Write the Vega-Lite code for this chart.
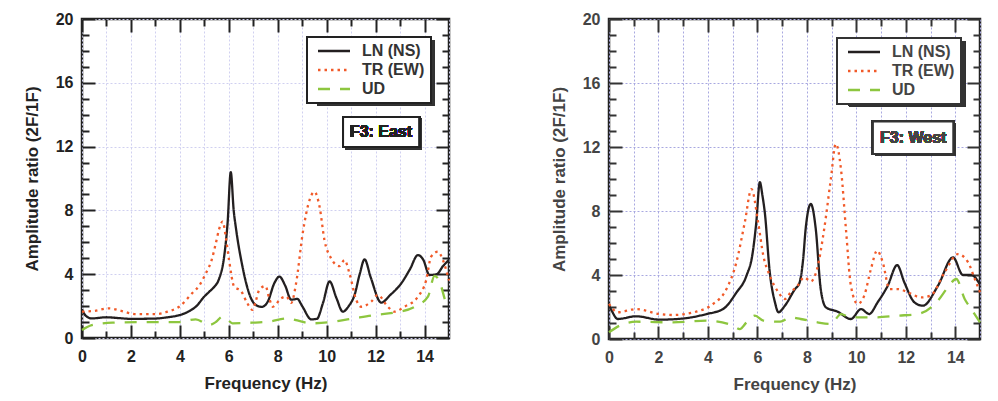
{
"$schema": "https://vega.github.io/schema/vega-lite/v6.json",
"padding": {"left": 21, "top": 9, "right": 5, "bottom": 5},
"spacing": 93,
"background": "white",
"config": {
 "view": {"stroke": "#222", "strokeWidth": 2.5},
 "font": "Liberation Sans",
 "legend": {"strokeWidth": 2},
 "axis": {"domain": false, "tickWidth": 2, "tickColor": "#222", "labelFontSize": 16, "labelFontWeight": "bold", "labelColor": "#222", "labelFlush": false, "titleFontSize": 17, "titleFontWeight": "bold", "titleColor": "#222", "gridDash": [2,2], "gridWidth": 1}
},
"datasets": {
"east": [
{"series":"LN (NS)","f":0,"a":1.8},{"series":"LN (NS)","f":0.15,"a":1.4},{"series":"LN (NS)","f":0.4,"a":1.23},{"series":"LN (NS)","f":1.0,"a":1.3},{"series":"LN (NS)","f":1.5,"a":1.25},{"series":"LN (NS)","f":2.0,"a":1.2},{"series":"LN (NS)","f":3.0,"a":1.22},{"series":"LN (NS)","f":3.5,"a":1.3},{"series":"LN (NS)","f":4.0,"a":1.44},{"series":"LN (NS)","f":4.4,"a":1.7},{"series":"LN (NS)","f":4.65,"a":1.96},{"series":"LN (NS)","f":5.0,"a":2.6},{"series":"LN (NS)","f":5.2,"a":2.9},{"series":"LN (NS)","f":5.4,"a":3.2},{"series":"LN (NS)","f":5.6,"a":3.7},{"series":"LN (NS)","f":5.8,"a":5.0},{"series":"LN (NS)","f":5.95,"a":7.2},{"series":"LN (NS)","f":6.08,"a":10.4},{"series":"LN (NS)","f":6.2,"a":8.0},{"series":"LN (NS)","f":6.3,"a":6.8},{"series":"LN (NS)","f":6.56,"a":4.47},{"series":"LN (NS)","f":6.83,"a":2.8},{"series":"LN (NS)","f":7.1,"a":2.07},{"series":"LN (NS)","f":7.35,"a":1.95},{"series":"LN (NS)","f":7.6,"a":2.3},{"series":"LN (NS)","f":7.85,"a":3.4},{"series":"LN (NS)","f":8.07,"a":3.85},{"series":"LN (NS)","f":8.3,"a":3.3},{"series":"LN (NS)","f":8.55,"a":2.4},{"series":"LN (NS)","f":8.8,"a":2.45},{"series":"LN (NS)","f":9.0,"a":2.0},{"series":"LN (NS)","f":9.37,"a":1.17},{"series":"LN (NS)","f":9.6,"a":1.2},{"series":"LN (NS)","f":9.85,"a":2.2},{"series":"LN (NS)","f":10.12,"a":3.55},{"series":"LN (NS)","f":10.4,"a":2.5},{"series":"LN (NS)","f":10.66,"a":1.65},{"series":"LN (NS)","f":10.9,"a":2.0},{"series":"LN (NS)","f":11.14,"a":2.7},{"series":"LN (NS)","f":11.35,"a":4.0},{"series":"LN (NS)","f":11.55,"a":4.93},{"series":"LN (NS)","f":11.8,"a":3.8},{"series":"LN (NS)","f":12.23,"a":2.22},{"series":"LN (NS)","f":12.6,"a":2.7},{"series":"LN (NS)","f":13.05,"a":3.43},{"series":"LN (NS)","f":13.4,"a":4.3},{"series":"LN (NS)","f":13.73,"a":5.2},{"series":"LN (NS)","f":13.95,"a":4.9},{"series":"LN (NS)","f":14.2,"a":3.95},{"series":"LN (NS)","f":14.5,"a":4.0},{"series":"LN (NS)","f":14.75,"a":4.5},{"series":"LN (NS)","f":15.0,"a":4.9},
{"series":"TR (EW)","f":0,"a":1.65},{"series":"TR (EW)","f":0.5,"a":1.7},{"series":"TR (EW)","f":1.1,"a":1.86},{"series":"TR (EW)","f":1.6,"a":1.7},{"series":"TR (EW)","f":2.2,"a":1.5},{"series":"TR (EW)","f":3.0,"a":1.5},{"series":"TR (EW)","f":3.5,"a":1.65},{"series":"TR (EW)","f":3.97,"a":1.96},{"series":"TR (EW)","f":4.5,"a":2.8},{"series":"TR (EW)","f":4.8,"a":3.3},{"series":"TR (EW)","f":5.06,"a":4.05},{"series":"TR (EW)","f":5.3,"a":4.9},{"series":"TR (EW)","f":5.47,"a":5.94},{"series":"TR (EW)","f":5.6,"a":6.8},{"series":"TR (EW)","f":5.75,"a":7.3},{"series":"TR (EW)","f":5.88,"a":6.3},{"series":"TR (EW)","f":6.01,"a":4.89},{"series":"TR (EW)","f":6.22,"a":3.22},{"series":"TR (EW)","f":6.5,"a":2.95},{"series":"TR (EW)","f":6.76,"a":2.17},{"series":"TR (EW)","f":6.97,"a":1.76},{"series":"TR (EW)","f":7.1,"a":2.3},{"series":"TR (EW)","f":7.24,"a":3.0},{"series":"TR (EW)","f":7.5,"a":3.26},{"series":"TR (EW)","f":7.65,"a":2.5},{"series":"TR (EW)","f":7.8,"a":1.96},{"series":"TR (EW)","f":8.14,"a":2.49},{"series":"TR (EW)","f":8.35,"a":2.6},{"series":"TR (EW)","f":8.55,"a":2.2},{"series":"TR (EW)","f":8.75,"a":3.43},{"series":"TR (EW)","f":9.02,"a":6.56},{"series":"TR (EW)","f":9.3,"a":8.65},{"series":"TR (EW)","f":9.5,"a":9.17},{"series":"TR (EW)","f":9.71,"a":8.23},{"series":"TR (EW)","f":9.91,"a":6.14},{"series":"TR (EW)","f":10.18,"a":5.0},{"series":"TR (EW)","f":10.52,"a":4.51},{"series":"TR (EW)","f":10.73,"a":4.89},{"series":"TR (EW)","f":10.93,"a":4.06},{"series":"TR (EW)","f":11.21,"a":2.38},{"series":"TR (EW)","f":11.41,"a":1.96},{"series":"TR (EW)","f":11.82,"a":2.28},{"series":"TR (EW)","f":12.09,"a":2.7},{"series":"TR (EW)","f":12.5,"a":1.96},{"series":"TR (EW)","f":12.77,"a":1.65},{"series":"TR (EW)","f":13.18,"a":1.96},{"series":"TR (EW)","f":13.73,"a":2.59},{"series":"TR (EW)","f":14.07,"a":3.64},{"series":"TR (EW)","f":14.27,"a":5.1},{"series":"TR (EW)","f":14.55,"a":5.41},{"series":"TR (EW)","f":14.75,"a":4.89},{"series":"TR (EW)","f":15.0,"a":3.6},
{"series":"UD","f":0,"a":0.5},{"series":"UD","f":0.4,"a":0.8},{"series":"UD","f":1.24,"a":0.96},{"series":"UD","f":2.6,"a":1.0},{"series":"UD","f":3.97,"a":1.0},{"series":"UD","f":4.65,"a":1.17},{"series":"UD","f":5.19,"a":0.82},{"series":"UD","f":5.47,"a":1.0},{"series":"UD","f":5.74,"a":1.34},{"series":"UD","f":5.95,"a":1.15},{"series":"UD","f":6.15,"a":0.92},{"series":"UD","f":6.95,"a":0.96},{"series":"UD","f":7.6,"a":1.02},{"series":"UD","f":8.41,"a":1.23},{"series":"UD","f":8.8,"a":1.1},{"series":"UD","f":9.37,"a":0.92},{"series":"UD","f":10.18,"a":1.0},{"series":"UD","f":11.0,"a":1.2},{"series":"UD","f":11.96,"a":1.44},{"series":"UD","f":12.77,"a":1.59},{"series":"UD","f":13.6,"a":1.96},{"series":"UD","f":14.14,"a":2.59},{"series":"UD","f":14.41,"a":3.9},{"series":"UD","f":14.6,"a":3.6},{"series":"UD","f":14.89,"a":2.17},{"series":"UD","f":15.0,"a":1.9}
],
"west": [
{"series":"LN (NS)","f":0,"a":2.1},{"series":"LN (NS)","f":0.1,"a":1.8},{"series":"LN (NS)","f":0.35,"a":1.25},{"series":"LN (NS)","f":1.1,"a":1.42},{"series":"LN (NS)","f":2.04,"a":1.21},{"series":"LN (NS)","f":2.99,"a":1.28},{"series":"LN (NS)","f":3.94,"a":1.56},{"series":"LN (NS)","f":4.61,"a":1.87},{"series":"LN (NS)","f":5.15,"a":2.9},{"series":"LN (NS)","f":5.56,"a":3.96},{"series":"LN (NS)","f":5.8,"a":5.3},{"series":"LN (NS)","f":5.95,"a":7.2},{"series":"LN (NS)","f":6.1,"a":9.8},{"series":"LN (NS)","f":6.2,"a":9.0},{"series":"LN (NS)","f":6.3,"a":7.9},{"series":"LN (NS)","f":6.5,"a":4.17},{"series":"LN (NS)","f":6.71,"a":2.29},{"series":"LN (NS)","f":6.85,"a":1.67},{"series":"LN (NS)","f":7.11,"a":2.08},{"series":"LN (NS)","f":7.52,"a":3.12},{"series":"LN (NS)","f":7.7,"a":3.5},{"series":"LN (NS)","f":7.85,"a":5.0},{"series":"LN (NS)","f":7.95,"a":6.87},{"series":"LN (NS)","f":8.16,"a":8.44},{"series":"LN (NS)","f":8.36,"a":6.87},{"series":"LN (NS)","f":8.56,"a":3.12},{"series":"LN (NS)","f":8.77,"a":1.98},{"series":"LN (NS)","f":9.24,"a":1.71},{"series":"LN (NS)","f":9.78,"a":1.25},{"series":"LN (NS)","f":10.19,"a":1.87},{"series":"LN (NS)","f":10.52,"a":1.56},{"series":"LN (NS)","f":10.86,"a":2.29},{"series":"LN (NS)","f":11.27,"a":3.33},{"series":"LN (NS)","f":11.65,"a":4.62},{"series":"LN (NS)","f":11.94,"a":3.54},{"series":"LN (NS)","f":12.35,"a":2.29},{"series":"LN (NS)","f":12.69,"a":2.08},{"series":"LN (NS)","f":13.3,"a":3.33},{"series":"LN (NS)","f":13.91,"a":5.1},{"series":"LN (NS)","f":14.31,"a":4.0},{"series":"LN (NS)","f":14.65,"a":4.0},{"series":"LN (NS)","f":15.0,"a":3.4},
{"series":"TR (EW)","f":0,"a":2.2},{"series":"TR (EW)","f":0.35,"a":1.67},{"series":"TR (EW)","f":1.1,"a":1.87},{"series":"TR (EW)","f":2.04,"a":1.56},{"series":"TR (EW)","f":2.58,"a":1.5},{"series":"TR (EW)","f":3.53,"a":1.71},{"series":"TR (EW)","f":4.21,"a":2.19},{"series":"TR (EW)","f":4.75,"a":3.12},{"series":"TR (EW)","f":5.15,"a":4.79},{"series":"TR (EW)","f":5.49,"a":7.29},{"series":"TR (EW)","f":5.76,"a":9.37},{"series":"TR (EW)","f":6.03,"a":7.29},{"series":"TR (EW)","f":6.24,"a":5.21},{"series":"TR (EW)","f":6.5,"a":3.96},{"series":"TR (EW)","f":6.85,"a":2.92},{"series":"TR (EW)","f":7.11,"a":2.5},{"series":"TR (EW)","f":7.35,"a":2.92},{"series":"TR (EW)","f":7.62,"a":3.33},{"series":"TR (EW)","f":7.89,"a":3.85},{"series":"TR (EW)","f":8.16,"a":3.6},{"series":"TR (EW)","f":8.4,"a":4.3},{"series":"TR (EW)","f":8.7,"a":6.87},{"series":"TR (EW)","f":8.97,"a":10.0},{"series":"TR (EW)","f":9.17,"a":12.2},{"series":"TR (EW)","f":9.38,"a":10.6},{"series":"TR (EW)","f":9.58,"a":6.87},{"series":"TR (EW)","f":9.78,"a":3.33},{"series":"TR (EW)","f":10.05,"a":2.19},{"series":"TR (EW)","f":10.32,"a":2.71},{"series":"TR (EW)","f":10.59,"a":4.37},{"series":"TR (EW)","f":10.84,"a":5.52},{"series":"TR (EW)","f":11.07,"a":4.79},{"series":"TR (EW)","f":11.34,"a":3.12},{"series":"TR (EW)","f":11.68,"a":3.12},{"series":"TR (EW)","f":12.08,"a":2.92},{"series":"TR (EW)","f":12.62,"a":2.6},{"series":"TR (EW)","f":13.0,"a":2.71},{"series":"TR (EW)","f":13.57,"a":4.17},{"series":"TR (EW)","f":14.11,"a":5.31},{"series":"TR (EW)","f":14.52,"a":4.79},{"series":"TR (EW)","f":14.79,"a":3.75},{"series":"TR (EW)","f":15.0,"a":2.92},
{"series":"UD","f":0,"a":0.42},{"series":"UD","f":0.42,"a":0.83},{"series":"UD","f":1.1,"a":1.08},{"series":"UD","f":2.58,"a":1.04},{"series":"UD","f":3.94,"a":1.15},{"series":"UD","f":5.02,"a":0.83},{"series":"UD","f":5.29,"a":0.62},{"series":"UD","f":5.56,"a":1.04},{"series":"UD","f":5.9,"a":1.46},{"series":"UD","f":6.24,"a":1.15},{"series":"UD","f":6.92,"a":1.08},{"series":"UD","f":7.35,"a":1.35},{"series":"UD","f":7.75,"a":1.25},{"series":"UD","f":8.43,"a":1.04},{"series":"UD","f":8.97,"a":0.94},{"series":"UD","f":9.38,"a":1.56},{"series":"UD","f":9.78,"a":1.35},{"series":"UD","f":10.73,"a":1.35},{"series":"UD","f":11.68,"a":1.46},{"series":"UD","f":12.49,"a":1.56},{"series":"UD","f":13.3,"a":2.4},{"series":"UD","f":13.7,"a":3.23},{"series":"UD","f":14.04,"a":3.75},{"series":"UD","f":14.38,"a":2.5},{"series":"UD","f":14.65,"a":1.87},{"series":"UD","f":15.0,"a":1.04}
]
},
"hconcat": [
{
"width": 367, "height": 319,
"data": {"name": "east"},
"resolve": {"axis": {"x": "independent", "y": "independent"}},
"layer": [
{
"mark": {"type": "line", "interpolate": "monotone", "strokeWidth": 2.3},
"encoding": {
"x": {"field": "f", "type": "quantitative", "scale": {"domain": [0, 15], "nice": false, "zero": false},
 "axis": {"orient": "bottom", "values": [0,1,2,3,4,5,6,7,8,9,10,11,12,13,14,15], "labelExpr": "datum.value % 2 === 0 && datum.value < 15 ? datum.label : ''", "title": "Frequency (Hz)", "ticks": false, "labelPadding": 10, "titlePadding": 11, "grid": true, "gridColor": "#d0d0f0"}},
"y": {"field": "a", "type": "quantitative", "scale": {"domain": [0, 20], "nice": false, "zero": false},
 "axis": {"orient": "left", "values": [0,4,8,12,16,20], "title": "Amplitude ratio (2F/1F)", "ticks": false, "labelPadding": 9, "titlePadding": 14, "grid": true, "gridColor": "#d0d0f0"}},
"color": {"field": "series", "type": "nominal", "scale": {"domain": ["LN (NS)","TR (EW)","UD"], "range": ["#231f20","#f15a29","#8dc63f"]},
 "legend": {"title": null, "orient": "top-right", "offset": 18, "strokeColor": "#222", "fillColor": "white", "padding": 6, "symbolType": "M-0.6,0H5.8", "symbolSize": 100, "symbolStrokeWidth": 2.5, "labelFontSize": 16, "labelFontWeight": "bold", "labelColor": "#333", "labelOffset": 33, "rowPadding": 3}},
"strokeDash": {"field": "series", "type": "nominal", "scale": {"domain": ["LN (NS)","TR (EW)","UD"], "range": [[1,0],[2.5,4],[12,10]]},
 "legend": {"title": null, "orient": "top-right", "offset": 18, "strokeColor": "#222", "fillColor": "white", "padding": 6, "symbolType": "M-0.6,0H5.8", "symbolSize": 100, "symbolStrokeWidth": 2.5, "labelFontSize": 16, "labelFontWeight": "bold", "labelColor": "#333", "labelOffset": 33, "rowPadding": 3}}
}
},
{
"mark": {"type": "rect", "fill": "#333"},
"encoding": {
"x": {"datum": 9.61, "type": "quantitative", "scale": {"domain": [0, 15], "nice": false, "zero": false},
 "axis": {"orient": "bottom", "values": [0,2,4,6,8,10,12,14], "title": null, "labels": false, "offset": -13, "tickSize": 13, "grid": false}},
"x2": {"datum": 14.4},
"y": {"datum": 18.68, "type": "quantitative", "scale": {"domain": [0, 20], "nice": false, "zero": false},
 "axis": {"orient": "left", "values": [0,4,8,12,16,20], "title": null, "labels": false, "offset": -13, "tickSize": 13, "grid": false}},
"y2": {"datum": 14.6}
}
},
{
"mark": {"type": "rect", "fill": "#333"},
"encoding": {
"x": {"datum": 10.76, "type": "quantitative", "scale": {"domain": [0, 15], "nice": false, "zero": false},
 "axis": {"orient": "bottom", "values": [1,3,5,7,9,11,13], "title": null, "labels": false, "offset": -7, "tickSize": 7, "grid": false}},
"x2": {"datum": 13.87},
"y": {"datum": 13.74, "type": "quantitative", "scale": {"domain": [0, 20], "nice": false, "zero": false},
 "axis": {"orient": "left", "values": [1,2,3,5,6,7,9,10,11,13,14,15,17,18,19], "title": null, "labels": false, "offset": -7, "tickSize": 7, "grid": false}},
"y2": {"datum": 11.84}
}
},
{
"mark": {"type": "rect", "fill": "white", "stroke": "#222", "strokeWidth": 2},
"encoding": {
"x": {"datum": 10.67, "type": "quantitative", "scale": {"domain": [0, 15], "nice": false, "zero": false},
 "axis": {"orient": "top", "values": [0,2,4,6,8,10,12,14], "title": null, "labels": false, "offset": -13, "tickSize": 13, "grid": false}},
"x2": {"datum": 13.78},
"y": {"datum": 13.86, "type": "quantitative", "scale": {"domain": [0, 20], "nice": false, "zero": false},
 "axis": {"orient": "right", "values": [0,4,8,12,16,20], "title": null, "labels": false, "offset": -13, "tickSize": 13, "grid": false}},
"y2": {"datum": 11.97}
}
},
{
"mark": {"type": "text", "text": "F3: East", "fontSize": 16, "fontWeight": "bold", "fill": "#222"},
"encoding": {
"x": {"datum": 12.22, "type": "quantitative", "scale": {"domain": [0, 15], "nice": false, "zero": false},
 "axis": {"orient": "top", "values": [1,3,5,7,9,11,13], "title": null, "labels": false, "offset": -7, "tickSize": 7, "grid": false}},
"y": {"datum": 12.9, "type": "quantitative", "scale": {"domain": [0, 20], "nice": false, "zero": false},
 "axis": {"orient": "right", "values": [1,2,3,5,6,7,9,10,11,13,14,15,17,18,19], "title": null, "labels": false, "offset": -7, "tickSize": 7, "grid": false}}
}
}
]
},
{
"width": 371, "height": 320,
"data": {"name": "west"},
"resolve": {"axis": {"x": "independent", "y": "independent"}},
"layer": [
{
"mark": {"type": "line", "interpolate": "monotone", "strokeWidth": 2.3},
"encoding": {
"x": {"field": "f", "type": "quantitative", "scale": {"domain": [0, 15], "nice": false, "zero": false},
 "axis": {"orient": "bottom", "values": [0,1,2,3,4,5,6,7,8,9,10,11,12,13,14,15], "labelExpr": "datum.value % 2 === 0 && datum.value < 15 ? datum.label : ''", "title": "Frequency (Hz)", "ticks": false, "labelPadding": 10, "titlePadding": 11, "grid": true, "gridColor": "#a8a8e0", "labelColor": "#444", "titleColor": "#444"}},
"y": {"field": "a", "type": "quantitative", "scale": {"domain": [0, 20], "nice": false, "zero": false},
 "axis": {"orient": "left", "values": [0,4,8,12,16,20], "title": "Amplitude ratio (2F/1F)", "ticks": false, "labelPadding": 9, "titlePadding": 14, "grid": true, "gridColor": "#a8a8e0", "labelColor": "#444", "titleColor": "#444"}},
"color": {"field": "series", "type": "nominal", "scale": {"domain": ["LN (NS)","TR (EW)","UD"], "range": ["#2a2a2a","#f26a3b","#8dc63f"]},
 "legend": {"title": null, "orient": "top-right", "offset": 19, "strokeColor": "#333", "fillColor": "white", "padding": 6, "symbolType": "M-0.6,0H5.8", "symbolSize": 100, "symbolStrokeWidth": 2.5, "labelFontSize": 16, "labelFontWeight": "bold", "labelColor": "#444", "labelOffset": 33, "rowPadding": 3}},
"strokeDash": {"field": "series", "type": "nominal", "scale": {"domain": ["LN (NS)","TR (EW)","UD"], "range": [[1,0],[2.5,4],[12,10]]},
 "legend": {"title": null, "orient": "top-right", "offset": 19, "strokeColor": "#333", "fillColor": "white", "padding": 6, "symbolType": "M-0.6,0H5.8", "symbolSize": 100, "symbolStrokeWidth": 2.5, "labelFontSize": 16, "labelFontWeight": "bold", "labelColor": "#444", "labelOffset": 33, "rowPadding": 3}}
}
},
{
"mark": {"type": "rect", "fill": "#333"},
"encoding": {
"x": {"datum": 9.7, "type": "quantitative", "scale": {"domain": [0, 15], "nice": false, "zero": false},
 "axis": {"orient": "bottom", "values": [0,2,4,6,8,10,12,14], "title": null, "labels": false, "offset": -13, "tickSize": 13, "grid": false, "tickColor": "#333"}},
"x2": {"datum": 14.41},
"y": {"datum": 18.63, "type": "quantitative", "scale": {"domain": [0, 20], "nice": false, "zero": false},
 "axis": {"orient": "left", "values": [0,4,8,12,16,20], "title": null, "labels": false, "offset": -13, "tickSize": 13, "grid": false, "tickColor": "#333"}},
"y2": {"datum": 14.55}
}
},
{
"mark": {"type": "rect", "fill": "#333"},
"encoding": {
"x": {"datum": 10.76, "type": "quantitative", "scale": {"domain": [0, 15], "nice": false, "zero": false},
 "axis": {"orient": "bottom", "values": [1,3,5,7,9,11,13], "title": null, "labels": false, "offset": -7, "tickSize": 7, "grid": false, "tickColor": "#333"}},
"x2": {"datum": 14.01},
"y": {"datum": 13.48, "type": "quantitative", "scale": {"domain": [0, 20], "nice": false, "zero": false},
 "axis": {"orient": "left", "values": [1,2,3,5,6,7,9,10,11,13,14,15,17,18,19], "title": null, "labels": false, "offset": -7, "tickSize": 7, "grid": false, "tickColor": "#333"}},
"y2": {"datum": 11.43}
}
},
{
"mark": {"type": "rect", "fill": "white", "stroke": "#333", "strokeWidth": 2},
"encoding": {
"x": {"datum": 10.67, "type": "quantitative", "scale": {"domain": [0, 15], "nice": false, "zero": false},
 "axis": {"orient": "top", "values": [0,2,4,6,8,10,12,14], "title": null, "labels": false, "offset": -13, "tickSize": 13, "grid": false, "tickColor": "#333"}},
"x2": {"datum": 13.92},
"y": {"datum": 13.6, "type": "quantitative", "scale": {"domain": [0, 20], "nice": false, "zero": false},
 "axis": {"orient": "right", "values": [0,4,8,12,16,20], "title": null, "labels": false, "offset": -13, "tickSize": 13, "grid": false, "tickColor": "#333"}},
"y2": {"datum": 11.56}
}
},
{
"mark": {"type": "text", "text": "F3: West", "fontSize": 16, "fontWeight": "bold", "fill": "#444"},
"encoding": {
"x": {"datum": 12.3, "type": "quantitative", "scale": {"domain": [0, 15], "nice": false, "zero": false},
 "axis": {"orient": "top", "values": [1,3,5,7,9,11,13], "title": null, "labels": false, "offset": -7, "tickSize": 7, "grid": false, "tickColor": "#333"}},
"y": {"datum": 12.58, "type": "quantitative", "scale": {"domain": [0, 20], "nice": false, "zero": false},
 "axis": {"orient": "right", "values": [1,2,3,5,6,7,9,10,11,13,14,15,17,18,19], "title": null, "labels": false, "offset": -7, "tickSize": 7, "grid": false, "tickColor": "#333"}}
}
}
]
}
],
"resolve": {"legend": {"color": "independent", "strokeDash": "independent"}}
}
